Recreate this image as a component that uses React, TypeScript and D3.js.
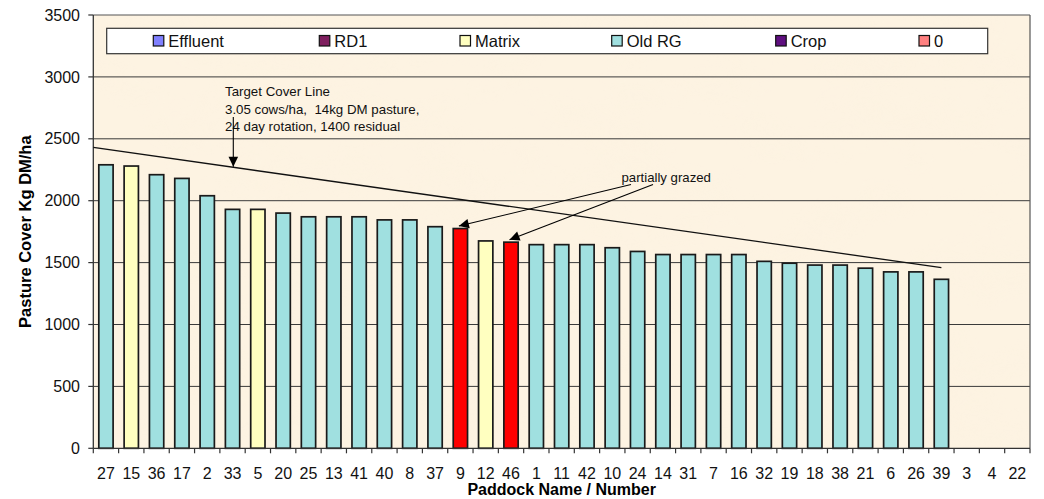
import React from "react";
import * as d3 from "d3";

const paddocks = ["27","15","36","17","2","33","5","20","25","13","41","40","8","37","9","12","46","1","11","42","10","24","14","31","7","16","32","19","18","38","21","6","26","39","3","4","22"];
const cover = [2290,2280,2210,2180,2040,1930,1930,1900,1870,1870,1870,1845,1845,1790,1775,1675,1665,1645,1645,1645,1620,1590,1565,1565,1565,1565,1510,1495,1480,1480,1455,1425,1425,1365,null,null,null];
const pastureType = ["Old RG","Matrix","Old RG","Old RG","Old RG","Old RG","Matrix","Old RG","Old RG","Old RG","Old RG","Old RG","Old RG","Old RG","Grazed","Matrix","Grazed","Old RG","Old RG","Old RG","Old RG","Old RG","Old RG","Old RG","Old RG","Old RG","Old RG","Old RG","Old RG","Old RG","Old RG","Old RG","Old RG","Old RG","","",""];
const legendNames = ["Effluent","RD1","Matrix","Old RG","Crop","0"];
const legendColors = ["#8080FF","#7F1F5F","#FFFFC0","#A0E0E0","#5F0F80","#FF8080"];
const yTicks = [0,500,1000,1500,2000,2500,3000,3500];
const targetStartValue = 2430;
const targetEndValue = 1460;
const targetEndPaddock = "39";
const grazedPaddocks = ["9","46"];

const typeColor: Record<string,string> = {
  "Old RG": "#A0E0E0",
  "Matrix": "#FFFFC0",
  "Grazed": "#FF0000",
};

export default function App() {
  const W = 1044, H = 499;
  const L = 93.3, R = 1030, T = 15, B = 448.3;
  const x = d3.scaleBand<string>().domain(paddocks).range([L, R]).padding(0);
  const y = d3.scaleLinear().domain([0, 3500]).range([B, T]);
  const bw = x.bandwidth() * 0.565;
  const cx = (p: string) => (x(p) as number) + x.bandwidth() / 2;

  const tx1 = L, ty1 = y(targetStartValue);
  const tx2 = cx(targetEndPaddock), ty2 = y(targetEndValue);
  const targetAt = (xx: number) => ty1 + (xx - tx1) / (tx2 - tx1) * (ty2 - ty1);

  const arrowHead = (x1: number, y1: number, x2: number, y2: number) => {
    const ang = Math.atan2(y2 - y1, x2 - x1);
    const len = 10, hw = 4.8;
    const bx = x2 - len * Math.cos(ang), by = y2 - len * Math.sin(ang);
    const px = -Math.sin(ang) * hw, py = Math.cos(ang) * hw;
    return `M${x2},${y2}L${bx + px},${by + py}L${bx - px},${by - py}Z`;
  };
  const arrow = (x1: number, y1: number, x2: number, y2: number, k: string) => (
    <g key={k}>
      <line x1={x1} y1={y1} x2={x2} y2={y2} stroke="#000" strokeWidth={1.1} />
      <path d={arrowHead(x1, y1, x2, y2)} fill="#000" />
    </g>
  );

  const legendX = [153.3, 319.3, 460, 611.7, 775.7, 919];
  const font = "Liberation Sans, Arial, sans-serif";

  const targetArrowX = 233.3;
  const grazedStarts = [[631, 184.5], [653, 184.5]];

  return (
    <svg width={W} height={H} style={{ position: "absolute", left: 0, top: 0 }} fontFamily={font}>
      <defs>
        <filter id="paper" x="0" y="0" width="100%" height="100%">
          <feTurbulence type="fractalNoise" baseFrequency="0.012 0.02" numOctaves={4} seed={7} result="n" />
          <feColorMatrix in="n" type="matrix" values="0 0 0 0 0.96  0 0 0 0 0.88  0 0 0 0 0.74  0.9 0 0 0 -0.38" />
        </filter>
      </defs>
      <rect x={0} y={0} width={W} height={H} fill="#fff" />
      <rect x={L} y={T} width={R - L} height={B - T} fill="#FDF3E2" />
      <rect x={L} y={T} width={R - L} height={B - T} filter="url(#paper)" opacity={0.45} />
      {yTicks.filter(t => t > 0 && t < 3500).map(t => (
        <line key={"g" + t} x1={L} x2={R} y1={y(t)} y2={y(t)} stroke="#3a3a3a" strokeWidth={1} />
      ))}
      <line x1={L} x2={R} y1={T} y2={T} stroke="#555" strokeWidth={1.2} />
      <line x1={R} x2={R} y1={T} y2={B} stroke="#555" strokeWidth={1.2} />
      {paddocks.map((p, i) => cover[i] == null ? null : (
        <rect key={"b" + p} x={cx(p) - bw / 2} y={y(cover[i] as number)} width={bw} height={B - y(cover[i] as number)}
          fill={typeColor[pastureType[i]]} stroke="#1a1a1a" strokeWidth={1.7} />
      ))}
      <line x1={L} x2={L} y1={T} y2={B} stroke="#333" strokeWidth={1.3} />
      <line x1={L} x2={R} y1={B} y2={B} stroke="#333" strokeWidth={1.3} />
      {yTicks.map(t => (
        <g key={"yt" + t}>
          <line x1={L - 5} x2={L} y1={y(t)} y2={y(t)} stroke="#333" strokeWidth={1.2} />
          <text x={80} y={y(t)} dy="0.35em" textAnchor="end" fontSize={16} fill="#111">{t}</text>
        </g>
      ))}
      {paddocks.map((p, i) => (
        <line key={"xt" + i} x1={x(p) as number} x2={x(p) as number} y1={B} y2={B + 5} stroke="#333" strokeWidth={1.2} />
      ))}
      <line x1={R} x2={R} y1={B} y2={B + 5} stroke="#333" strokeWidth={1.2} />
      {paddocks.map(p => (
        <text key={"xl" + p} x={cx(p)} y={479} textAnchor="middle" fontSize={16} fill="#111">{p}</text>
      ))}
      <text x={(L + R) / 2} y={495} textAnchor="middle" fontSize={16} fontWeight="bold" fill="#000">Paddock Name / Number</text>
      <text transform={`translate(31,${(T + B) / 2}) rotate(-90)`} textAnchor="middle" fontSize={16.5} fontWeight="bold" fill="#000">Pasture Cover Kg DM/ha</text>

      {/* legend */}
      <rect x={106.7} y={28.3} width={881} height={25.4} fill="#fff" stroke="#333" strokeWidth={1.2} />
      {legendNames.map((n, i) => (
        <g key={"lg" + n}>
          <rect x={legendX[i]} y={35.5} width={10.5} height={10.5} fill={legendColors[i]} stroke="#111" strokeWidth={1.2} />
          <text x={legendX[i] + 15} y={41} dy="0.36em" fontSize={16.5} fill="#111">{n}</text>
        </g>
      ))}

      {/* target line */}
      <line x1={tx1} y1={ty1} x2={tx2} y2={ty2} stroke="#111" strokeWidth={1.3} />
      <g fontSize={13.3} fill="#111">
        <text x={225} y={96}>Target Cover Line</text>
        <text x={225} y={113.5}>{"3.05 cows/ha,\u00A0 14kg DM pasture,"}</text>
        <text x={225} y={131}>24 day rotation, 1400 residual</text>
      </g>
      {arrow(targetArrowX, 117, targetArrowX, targetAt(targetArrowX) - 0.5, "ta")}
      <text x={621.5} y={182} fontSize={13.2} fill="#111">partially grazed</text>
      {grazedPaddocks.map((p, i) => {
        const v = cover[paddocks.indexOf(p)] as number;
        return arrow(grazedStarts[i][0], grazedStarts[i][1], cx(p) - 1.5, y(v) - 2.5, "ga" + p);
      })}
    </svg>
  );
}
